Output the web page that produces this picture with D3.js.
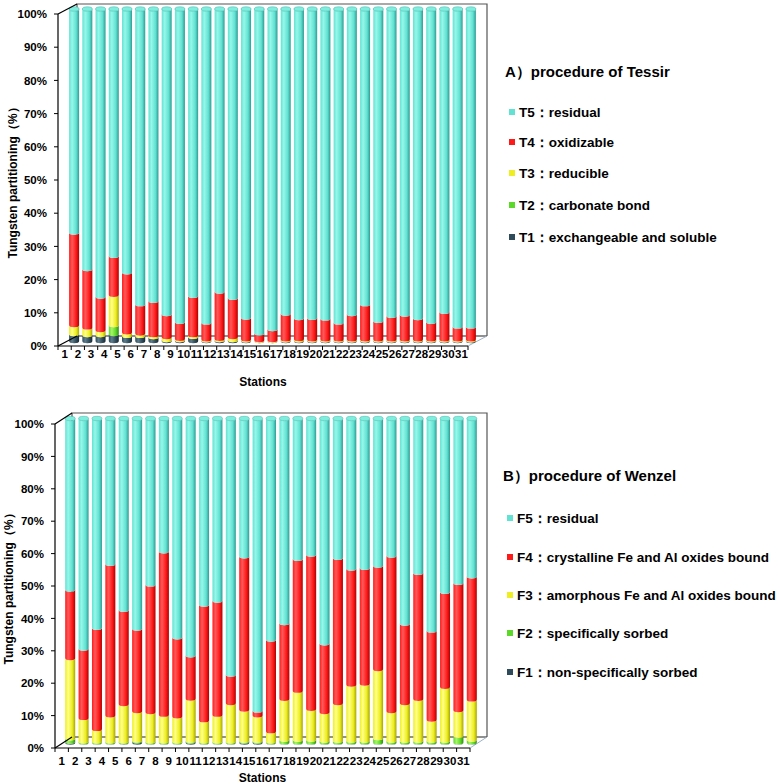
<!DOCTYPE html>
<html>
<head>
<meta charset="utf-8">
<script src="https://cdn.jsdelivr.net/npm/d3@7"></script>
<style>
  body { margin: 0; background: #fff; }
  svg { display: block; font-family: "Liberation Sans", Arial, sans-serif; font-weight: bold; }
</style>
</head>
<body>
<svg id="chart" width="780" height="784"></svg>
<script>
// ---------------- data ----------------
const stations = ["1","2","3","4","5","6","7","8","9","10","11","12","13","14","15","16","17","18","19","20","21","22","23","24","25","26","27","28","29","30","31"];
const yTicks = [0,10,20,30,40,50,60,70,80,90,100];
const yTickLabels = ["0%","10%","20%","30%","40%","50%","60%","70%","80%","90%","100%"];

// A) procedure of Tessir (percent)
const tessirKeys = ["T1","T2","T3","T4","T5"];
const tessirLabels = ["T1：exchangeable and soluble","T2：carbonate bond","T3：reducible","T4：oxidizable","T5：residual"];
const tessirT1 = [2.1,1.8,1.8,2.1,1.6,1.6,1.2,0.3,0.3,1.3,0.2,0.3,0.3,0.2,0.1,0.1,0.2,0.2,0.2,0.2,0.2,0.2,0.2,0.2,0.2,0.2,0.2,0.2,0.2,0.2,0.2];
const tessirT2 = [0,0,0,2.7,0,0,0,0,0,0,0,0,0,0,0,0,0,0,0,0,0,0,0,0,0,0,0,0,0,0,0];
const tessirT3 = [2.7,2.3,1.5,9.1,1.0,0.7,0.6,0.9,0.4,0.5,0.3,0.4,0.9,0.3,0.2,0.2,0.3,0.4,0.3,0.3,0.3,0.3,0.3,0.3,0.3,0.3,0.3,0.3,0.3,0.3,0.3];
const tessirT4 = [27.9,17.6,10.1,11.8,18.1,8.8,10.3,6.9,5.1,11.8,5.1,14.2,11.8,6.6,2.0,3.3,7.8,6.3,6.5,6.3,5.1,7.6,10.6,5.6,7.1,7.5,6.4,5.3,8.3,3.9,3.9];
const tessirT5 = [67.3,78.3,86.6,74.3,79.3,88.9,87.9,91.9,94.2,86.4,94.4,85.1,87.0,92.9,97.7,96.4,91.7,93.1,93.0,93.2,94.4,91.9,88.9,93.9,92.4,92.0,93.1,94.2,91.2,95.6,95.6];

// B) procedure of Wenzel (percent)
const wenzelKeys = ["F1","F2","F3","F4","F5"];
const wenzelLabels = ["F1：non-specifically sorbed","F2：specifically sorbed","F3：amorphous Fe and Al oxides bound","F4：crystalline Fe and Al oxides bound","F5：residual"];
const wenzelF1 = [0.3,0.1,0.1,0.1,0.1,0.4,0.1,0.1,0.1,0.3,0.1,0.1,0.1,0.3,0.3,0.1,0.1,0.1,0.1,0.1,0.1,0.1,0.1,0.1,0.1,0.1,0.1,0.1,0.1,0.1,0.1];
const wenzelF2 = [1.0,0.3,0.3,0.3,0.3,0.3,0.3,0.3,0.3,0.3,0.3,0.3,0.3,0.3,0.3,0.3,0.8,0.8,0.8,0.5,0.5,0.5,0.5,1.3,0.5,0.5,0.5,0.5,0.5,2.0,0.8];
const wenzelF3 = [24.8,7.2,3.8,8.0,11.5,9.0,9.0,8.2,7.7,13.0,6.5,8.2,11.8,9.6,7.8,3.1,12.6,15.1,9.5,8.8,11.6,17.3,17.6,21.3,9.1,11.6,12.9,6.5,16.6,7.9,12.4];
const wenzelF4 = [21.1,21.4,31.2,46.8,29.1,25.5,39.4,50.4,24.4,13.3,35.7,35.2,8.8,47.3,1.5,28.3,23.4,40.7,47.6,21.2,44.8,35.8,35.7,31.9,48.0,24.5,38.9,27.5,29.3,39.3,38.0];
const wenzelF5 = [52.8,71.0,64.6,44.8,59.0,64.8,51.2,41.0,67.5,73.1,57.4,56.2,79.0,42.5,90.1,68.2,63.1,43.3,42.0,69.4,43.0,46.3,46.1,45.4,42.3,63.3,47.6,65.4,53.5,50.7,48.7];

// colour per fraction level (1..5): light, mid, dark
const fractionColors = [
  ["#5f7d8c","#2f4b5a","#182a33"],
  ["#a8f56a","#5cd828","#2f8a12"],
  ["#ffff8a","#eeee22","#a6a600"],
  ["#ff5a5a","#ff1a1a","#b00000"],
  ["#96f7ea","#62e2d2","#2e9c94"]
];

// ---------------- drawing ----------------
const svg = d3.select("#chart");
const defs = svg.append("defs");
fractionColors.forEach((c, i) => {
  const gr = defs.append("linearGradient").attr("id", "cyl" + i)
    .attr("x1", "0%").attr("x2", "100%").attr("y1", "0%").attr("y2", "0%");
  gr.append("stop").attr("offset", "0%").attr("stop-color", c[1]);
  gr.append("stop").attr("offset", "30%").attr("stop-color", c[0]);
  gr.append("stop").attr("offset", "70%").attr("stop-color", c[1]);
  gr.append("stop").attr("offset", "100%").attr("stop-color", c[2]);
});

function drawChart(cfg) {
  const g = svg.append("g");
  const rows = stations.map((s, i) => {
    const r = { station: s };
    cfg.keys.forEach((k, j) => r[k] = cfg.series[j][i]);
    return r;
  });
  const stacked = d3.stack().keys(cfg.keys)(rows);

  const x = d3.scaleBand().domain(stations).range([cfg.x0, cfg.x1]).padding(0);
  const y = d3.scaleLinear().domain([0, 100]).range([cfg.yb, cfg.yt]);
  const dx = cfg.dx, dy = cfg.dy;
  const xb = d => x(d) + x.bandwidth() / 2 + dx / 2; // bar centre (mid depth)
  const yb = v => y(v) + dy / 2;
  const rx = 5, ry = 2.2;

  // back wall & floor
  g.append("path")
    .attr("d", `M${cfg.x0 + dx},${cfg.yb + dy} L${cfg.x0 + dx},${cfg.yt + dy} L${cfg.x1 + dx},${cfg.yt + dy} L${cfg.x1 + dx},${cfg.yb + dy}`)
    .attr("fill", "none").attr("stroke", "#555").attr("stroke-width", 1.2);
  g.append("line").attr("x1", cfg.x0 + dx).attr("x2", cfg.x1 + dx)
    .attr("y1", cfg.yb + dy).attr("y2", cfg.yb + dy)
    .attr("stroke", "#222").attr("stroke-width", 1.2);
  g.append("line").attr("x1", cfg.x1 + dx).attr("y1", cfg.yb + dy)
    .attr("x2", cfg.x1).attr("y2", cfg.yb)
    .attr("stroke", "#9fb2c8").attr("stroke-width", 1);

  // bars (cylinders)
  const seg = (cx, v0, v1) => {
    const a = yb(v0), b = yb(v1);
    return `M${cx - rx},${b} A${rx},${ry} 0 0 0 ${cx + rx},${b} L${cx + rx},${a} A${rx},${ry} 0 0 1 ${cx - rx},${a} Z`;
  };
  stacked.forEach((layer, li) => {
    g.append("g").selectAll("path").data(layer.filter(d => d[1] - d[0] > 0)).join("path")
      .attr("d", d => seg(xb(d.data.station), d[0], d[1]))
      .attr("fill", `url(#cyl${li})`);
  });
  // top caps
  const top = stacked[stacked.length - 1];
  g.append("g").selectAll("ellipse").data(top).join("ellipse")
    .attr("cx", d => xb(d.data.station)).attr("cy", d => yb(d[1]))
    .attr("rx", rx).attr("ry", ry)
    .attr("fill", "#7eeede").attr("stroke", "#3fb0a6").attr("stroke-width", 0.5);

  // front axis & floor front
  g.append("line").attr("x1", cfg.x0).attr("x2", cfg.x0).attr("y1", cfg.yb).attr("y2", cfg.yt)
    .attr("stroke", "#000").attr("stroke-width", 1.2);
  g.append("line").attr("x1", cfg.x0).attr("y1", cfg.yt).attr("x2", cfg.x0 + dx).attr("y2", cfg.yt + dy)
    .attr("stroke", "#000").attr("stroke-width", 1.2);
  g.append("line").attr("x1", cfg.x0).attr("y1", cfg.yb).attr("x2", cfg.x0 + dx).attr("y2", cfg.yb + dy)
    .attr("stroke", "#000").attr("stroke-width", 1.2);
  g.append("line").attr("x1", cfg.x0).attr("x2", cfg.x1).attr("y1", cfg.yb).attr("y2", cfg.yb)
    .attr("stroke", "#000").attr("stroke-width", 1.2);

  // y ticks
  g.append("g").selectAll("line").data(yTicks).join("line")
    .attr("x1", cfg.x0 - 4).attr("x2", cfg.x0).attr("y1", d => y(d)).attr("y2", d => y(d))
    .attr("stroke", "#000");
  g.append("g").selectAll("text").data(yTicks).join("text")
    .attr("x", cfg.x0 - 11).attr("y", d => y(d)).attr("dy", "0.36em")
    .attr("text-anchor", "end").attr("font-size", 11.5)
    .text((d, i) => yTickLabels[i]);

  // x ticks
  const bounds = stations.map(s => x(s)).concat([cfg.x1]);
  g.append("g").selectAll("line").data(bounds).join("line")
    .attr("x1", d => d).attr("x2", d => d).attr("y1", cfg.yb).attr("y2", cfg.yb + 4)
    .attr("stroke", "#000");
  g.append("g").selectAll("text").data(stations).join("text")
    .attr("x", d => x(d) + x.bandwidth() / 2).attr("y", cfg.labelY)
    .attr("text-anchor", "middle").attr("font-size", 11.5)
    .text(d => d);

  // axis titles
  g.append("text").attr("x", (cfg.x0 + cfg.x1) / 2 + 0).attr("y", cfg.titleY)
    .attr("text-anchor", "middle").attr("font-size", 12).text("Stations");
  g.append("text").attr("transform", `translate(${cfg.yTitleX},${(cfg.yb + cfg.yt) / 2}) rotate(-90)`)
    .attr("text-anchor", "middle").attr("font-size", 12).text("Tungsten partitioning（%）");

  // legend
  g.append("text").attr("x", cfg.legX - 4).attr("y", cfg.legTitleY)
    .attr("font-size", 15).text(cfg.title);
  const lg = g.append("g").selectAll("g").data(cfg.labels.map((l, i) => ({ l, i })).reverse()).join("g")
    .attr("transform", (d, k) => `translate(${cfg.legX},${cfg.legRows[k]})`);
  lg.append("rect").attr("x", 0).attr("y", -3).attr("width", 6).attr("height", 6)
    .attr("fill", d => fractionColors[d.i][1]);
  lg.append("text").attr("x", 10).attr("dy", "0.36em").attr("font-size", 13.5).text(d => d.l);
}

drawChart({
  keys: tessirKeys, labels: tessirLabels,
  series: [tessirT1, tessirT2, tessirT3, tessirT4, tessirT5],
  x0: 58, x1: 468, yb: 346, yt: 14, dx: 19, dy: -10,
  labelY: 358, titleY: 386, yTitleX: 17,
  title: "A）procedure of Tessir", legX: 509, legTitleY: 77,
  legRows: [112, 142, 173, 205, 237]
});
drawChart({
  keys: wenzelKeys, labels: wenzelLabels,
  series: [wenzelF1, wenzelF2, wenzelF3, wenzelF4, wenzelF5],
  x0: 55, x1: 470, yb: 748, yt: 424, dx: 17, dy: -11,
  labelY: 765, titleY: 782, yTitleX: 13,
  title: "B）procedure of Wenzel", legX: 507, legTitleY: 481,
  legRows: [518, 557, 595, 633, 672]
});
</script>
</body>
</html>
